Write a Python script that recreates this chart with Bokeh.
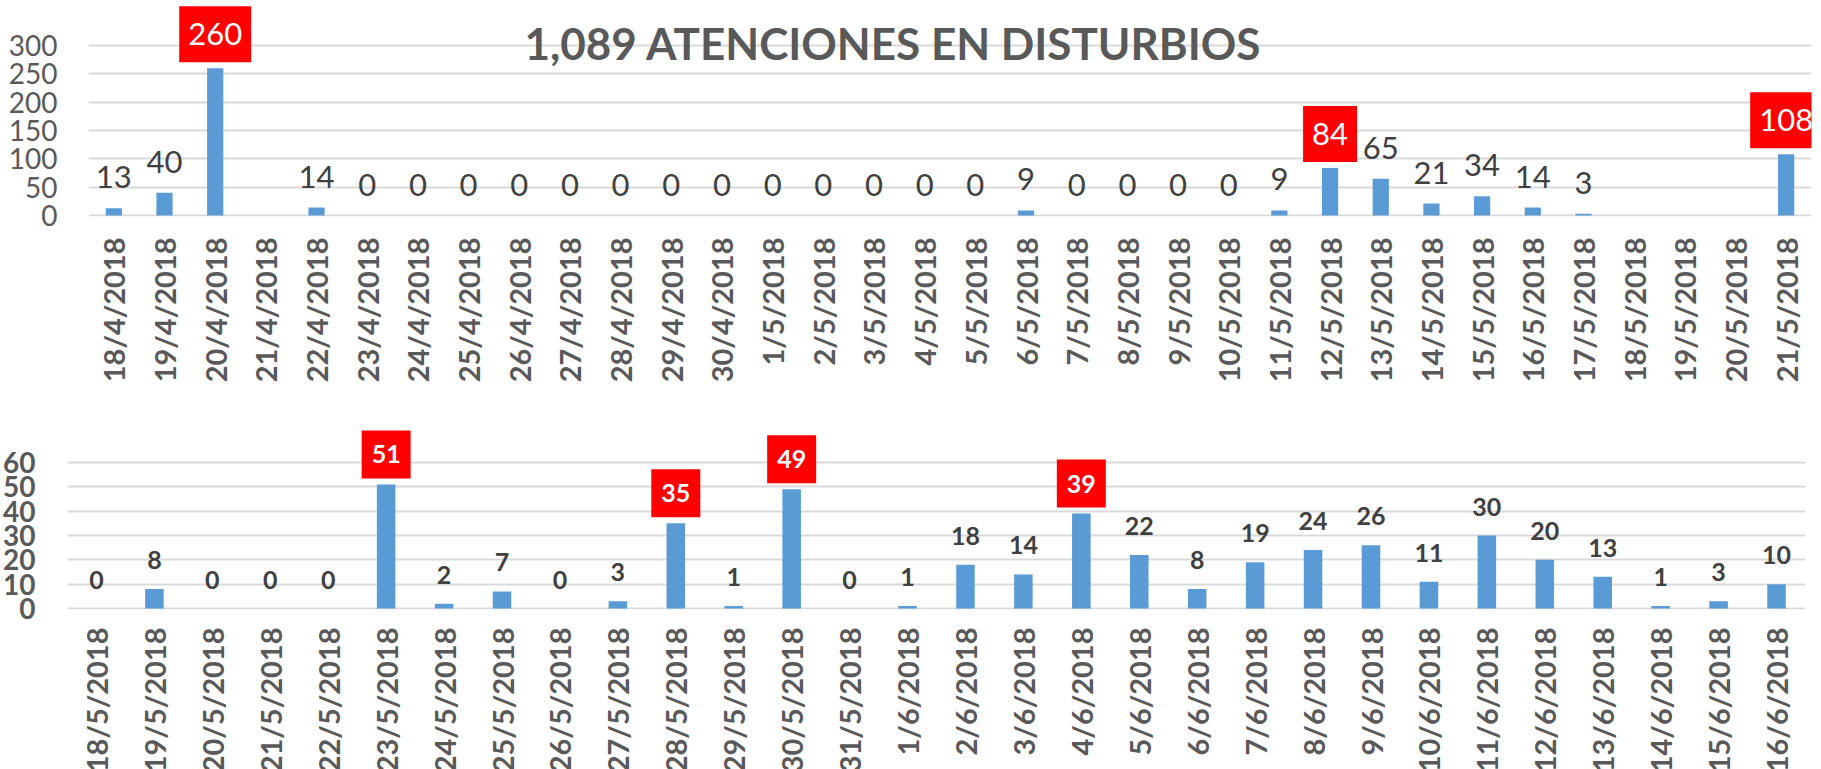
import math
from bokeh.plotting import figure
from bokeh.models import ColumnDataSource, LabelSet, Label, FixedTicker, Range1d, FactorRange
from bokeh.core.properties import value
from bokeh.layouts import column, row
from bokeh.embed import file_html
from bokeh.resources import INLINE

FONT = "Lato"
BAR_COLOR = "#5b9bd5"
HILITE = "#ff0000"
GRID = "#d9d9d9"
AXIS_TXT = "#595959"
LBL_TXT = "#404040"

title_text = "1,089 ATENCIONES EN DISTURBIOS"

top_dates = ["18/4/2018", "19/4/2018", "20/4/2018", "21/4/2018", "22/4/2018", "23/4/2018",
             "24/4/2018", "25/4/2018", "26/4/2018", "27/4/2018", "28/4/2018", "29/4/2018",
             "30/4/2018", "1/5/2018", "2/5/2018", "3/5/2018", "4/5/2018", "5/5/2018",
             "6/5/2018", "7/5/2018", "8/5/2018", "9/5/2018", "10/5/2018", "11/5/2018",
             "12/5/2018", "13/5/2018", "14/5/2018", "15/5/2018", "16/5/2018", "17/5/2018",
             "18/5/2018", "19/5/2018", "20/5/2018", "21/5/2018"]
top_values = [13, 40, 260, None, 14, 0,
              0, 0, 0, 0, 0, 0,
              0, 0, 0, 0, 0, 0,
              9, 0, 0, 0, 0, 9,
              84, 65, 21, 34, 14, 3,
              None, None, None, 108]
top_highlight = ["20/4/2018", "12/5/2018", "21/5/2018"]
top_yticks = [0, 50, 100, 150, 200, 250, 300]

bottom_dates = ["18/5/2018", "19/5/2018", "20/5/2018", "21/5/2018", "22/5/2018", "23/5/2018",
                "24/5/2018", "25/5/2018", "26/5/2018", "27/5/2018", "28/5/2018", "29/5/2018",
                "30/5/2018", "31/5/2018", "1/6/2018", "2/6/2018", "3/6/2018", "4/6/2018",
                "5/6/2018", "6/6/2018", "7/6/2018", "8/6/2018", "9/6/2018", "10/6/2018",
                "11/6/2018", "12/6/2018", "13/6/2018", "14/6/2018", "15/6/2018", "16/6/2018"]
bottom_values = [0, 8, 0, 0, 0, 51,
                 2, 7, 0, 3, 35, 1,
                 49, 0, 1, 18, 14, 39,
                 22, 8, 19, 24, 26, 11,
                 30, 20, 13, 1, 3, 10]
bottom_highlight = ["23/5/2018", "28/5/2018", "30/5/2018", "4/6/2018"]
bottom_yticks = [0, 10, 20, 30, 40, 50, 60]


def make_chart(dates, values, highlight, yticks, y_start, y_end, frame_w, frame_h,
               left, right, bottom, ylab_standoff, xlab_standoff, ytick_style,
               lbl_size, lbl_style, pad_x, pad_y, box_off):
    p = figure(x_range=FactorRange(*dates), y_range=Range1d(y_start, y_end),
               frame_width=frame_w, frame_height=frame_h,
               min_border_left=left, min_border_right=right, min_border_top=0,
               min_border_bottom=bottom,
               output_backend="svg", toolbar_location=None, tools="")
    p.outline_line_color = None
    p.background_fill_color = "white"
    p.border_fill_color = "white"

    tops = [float("nan") if v is None else v for v in values]
    src = ColumnDataSource(dict(x=dates, top=tops))
    p.vbar(x="x", top="top", bottom=0, width=0.32, source=src,
           fill_color=BAR_COLOR, line_color=None)

    norm = [(d, v) for d, v in zip(dates, values) if v is not None and d not in highlight]
    hl = [(d, v) for d, v in zip(dates, values) if v is not None and d in highlight]
    nsrc = ColumnDataSource(dict(x=[d for d, _ in norm], y=[v for _, v in norm],
                                 t=[str(v) for _, v in norm]))
    hsrc = ColumnDataSource(dict(x=[d for d, _ in hl], y=[v for _, v in hl],
                                 t=[str(v) for _, v in hl]))
    p.add_layout(LabelSet(x="x", y="y", text="t", source=nsrc, text_align="center",
                          text_baseline="alphabetic", y_offset=20, text_font=value(FONT),
                          text_font_size=value(lbl_size), text_font_style=lbl_style,
                          text_color=LBL_TXT))
    p.text(x="x", y="y", text="t", source=hsrc, text_align="center",
           text_baseline="middle", y_offset=-box_off, text_font=value(FONT),
           text_font_size=value(lbl_size), text_font_style=lbl_style,
           text_color="white", background_fill_color=HILITE,
           padding=dict(left=pad_x, right=pad_x, top=pad_y, bottom=pad_y))

    p.xgrid.grid_line_color = None
    p.ygrid.grid_line_color = GRID
    p.ygrid.grid_line_width = 2
    p.yaxis.ticker = FixedTicker(ticks=yticks)
    for ax in (p.xaxis[0], p.yaxis[0]):
        ax.axis_line_color = None
        ax.major_tick_line_color = None
        ax.minor_tick_line_color = None
        ax.major_tick_out = 0
        ax.major_tick_in = 0
        ax.major_label_text_font = FONT
        ax.major_label_text_color = AXIS_TXT
    p.yaxis.major_label_text_font_size = "28px"
    p.yaxis.major_label_text_font_style = ytick_style
    p.yaxis.major_label_standoff = ylab_standoff
    p.xaxis.major_label_text_font_size = "29px"
    p.xaxis.major_label_text_font_style = "bold"
    p.xaxis.major_label_orientation = math.pi / 2
    p.xaxis.major_label_standoff = xlab_standoff
    return p


top = make_chart(top_dates, top_values, top_highlight, top_yticks, -1.76, 379.4,
                 1723, 216, 88, 10, 168, 31, 21, "normal", "31px", "normal", 9, 17, 34)
title = Label(x=15.88, y=305.0, text=title_text,
              text_align="center", text_baseline="alphabetic", text_font=FONT,
              text_font_size="44px", text_font_style="bold", text_color=AXIS_TXT)
top.add_layout(title)

bottom = make_chart(bottom_dates, bottom_values, bottom_highlight, bottom_yticks, -0.41, 91.65,
                    1738, 224, 66, 17, 161, 32, 18, "bold", "25px", "bold", 10, 15, 30)

layout = column(row(top), row(bottom), spacing=0)
open("out.html", "w").write(file_html(layout, INLINE))
